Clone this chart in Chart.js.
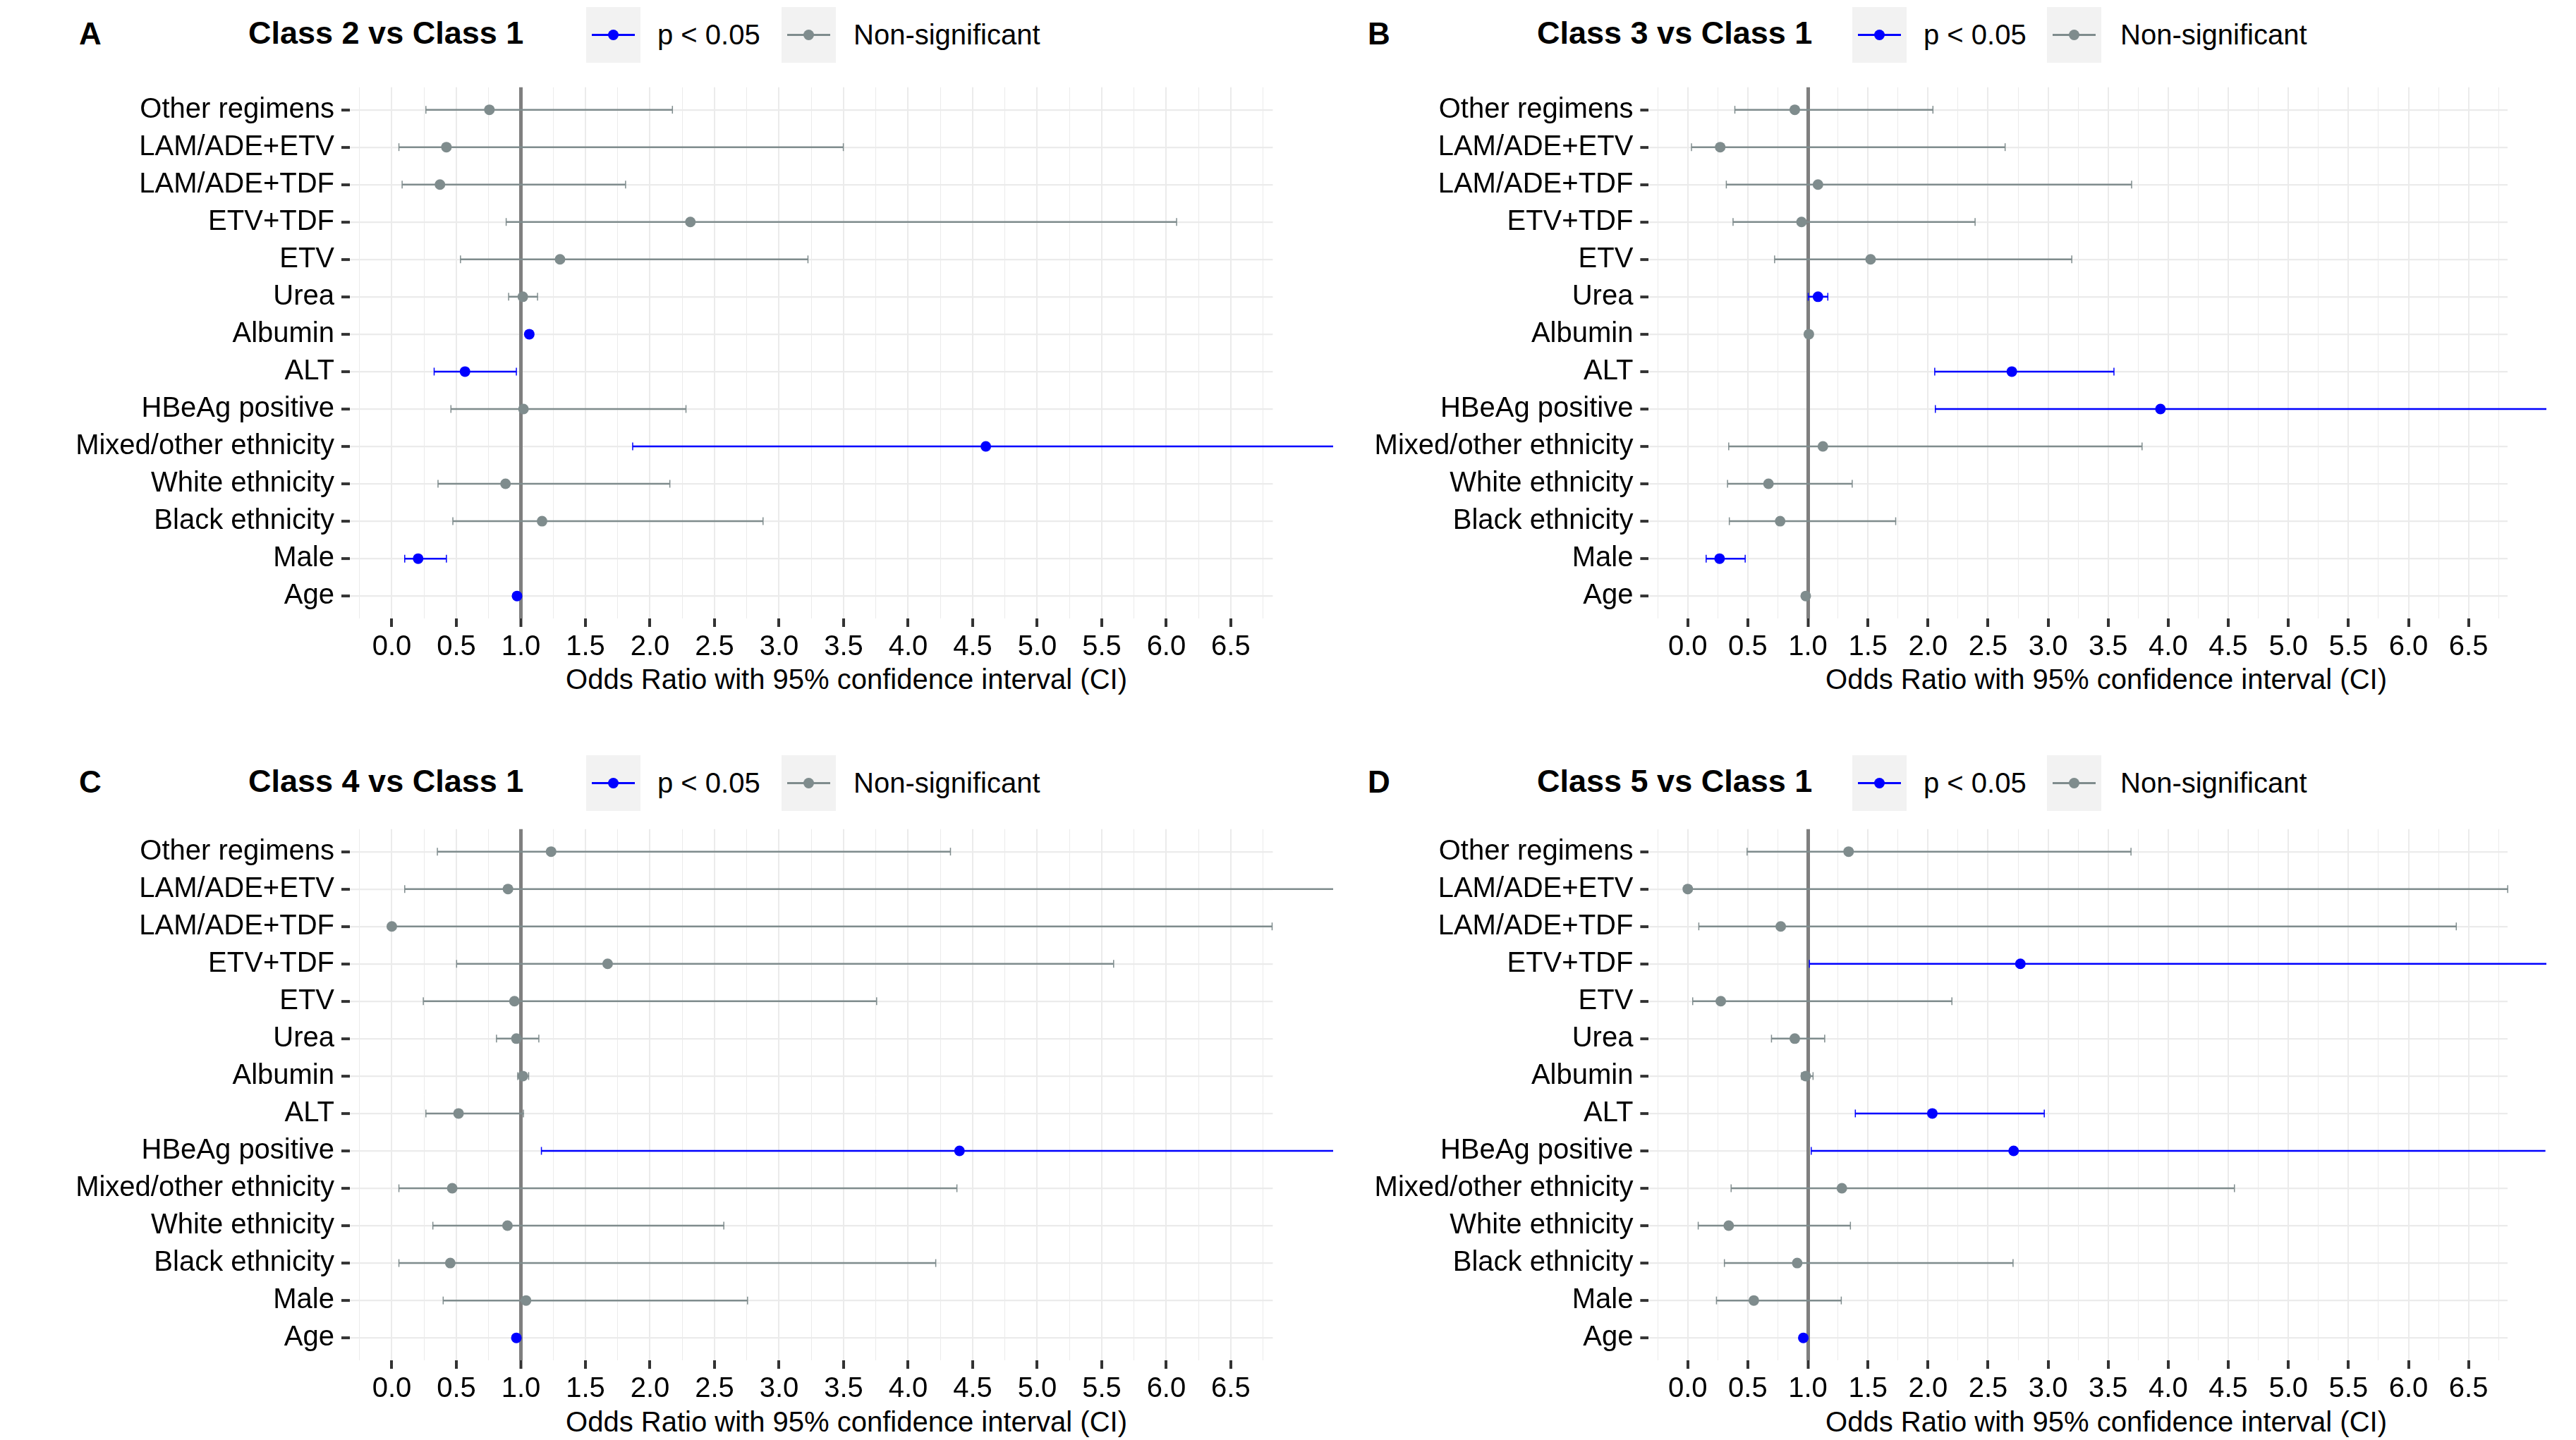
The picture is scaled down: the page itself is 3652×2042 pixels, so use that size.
<!DOCTYPE html>
<html>
<head>
<meta charset="utf-8">
<script src="https://cdn.jsdelivr.net/npm/chart.js@4.4.1/dist/chart.umd.min.js"></script>
<style>
html,body{margin:0;padding:0;background:#fff;width:3652px;height:2042px;overflow:hidden;font-family:"Liberation Sans",Arial,Helvetica,sans-serif;color:#000;}
.abs{position:absolute;white-space:nowrap;}
.letter{font-weight:bold;font-size:44px;line-height:44px;}
.ptitle{font-weight:bold;font-size:45px;line-height:45px;}
.leg{font-size:40px;line-height:40px;}
.axt{font-size:40px;line-height:40px;transform:translateX(-50%);}
.key{position:absolute;background:#F2F2F2;width:77px;height:79px;}
.key .ln{position:absolute;left:8px;width:61px;top:38px;height:3px;}
.key .dt{position:absolute;left:31px;top:32px;width:15px;height:15px;border-radius:50%;}
canvas{position:absolute;}
</style>
</head>
<body>
<script>
// ---------- data ----------
const variables = ['Other regimens','LAM/ADE+ETV','LAM/ADE+TDF','ETV+TDF','ETV','Urea','Albumin','ALT','HBeAg positive','Mixed/other ethnicity','White ethnicity','Black ethnicity','Male','Age'];
const xTickLabels = ['0.0','0.5','1.0','1.5','2.0','2.5','3.0','3.5','4.0','4.5','5.0','5.5','6.0','6.5'];
const panelLetters = ['A','B','C','D'];
const panelTitles = ['Class 2 vs Class 1','Class 3 vs Class 1','Class 4 vs Class 1','Class 5 vs Class 1'];
const legendLabels = ['p < 0.05','Non-significant'];
const xAxisTitle = 'Odds Ratio with 95% confidence interval (CI)';
const refValue = 1;

// Class 2 vs Class 1
const c2_or  = [0.756,0.423,0.373,2.313,1.303,1.015,1.065,0.567,1.020,4.602,0.881,1.164,0.204,0.970];
const c2_lo  = [0.264,0.055,0.080,0.886,0.532,0.905,1.040,0.328,0.458,1.866,0.358,0.473,0.100,0.960];
const c2_hi  = [2.174,3.498,1.811,6.080,3.224,1.129,1.090,0.965,2.279,11.40,2.154,2.876,0.423,0.980];
const c2_sig = [0,0,0,0,0,0,1,1,0,1,0,0,1,1];
// Class 3 vs Class 1
const c3_or  = [0.891,0.270,1.084,0.947,1.522,1.084,1.008,2.698,3.935,1.125,0.672,0.769,0.265,0.982];
const c3_lo  = [0.392,0.031,0.321,0.377,0.723,1.003,0.990,2.056,2.061,0.341,0.331,0.346,0.153,0.975];
const c3_hi  = [2.041,2.642,3.695,2.392,3.197,1.166,1.025,3.548,7.900,3.782,1.369,1.731,0.478,0.990];
const c3_sig = [0,0,0,0,0,1,0,1,1,0,0,0,1,0];
// Class 4 vs Class 1
const c4_or  = [1.234,0.900,0.000,1.672,0.950,0.965,1.015,0.517,4.398,0.468,0.896,0.453,1.040,0.965];
const c4_lo  = [0.353,0.100,0.000,0.502,0.244,0.811,0.975,0.264,1.159,0.055,0.318,0.055,0.398,0.955];
const c4_hi  = [4.328,9.800,6.820,5.592,3.756,1.139,1.060,1.020,9.500,4.378,2.572,4.214,2.756,0.975];
const c4_sig = [0,0,0,0,0,0,0,0,1,0,0,0,0,1];
// Class 5 vs Class 1
const c5_or  = [1.339,0.000,0.774,2.769,0.275,0.891,0.982,2.036,2.713,1.283,0.341,0.911,0.550,0.962];
const c5_lo  = [0.494,0.000,0.092,1.013,0.041,0.697,0.947,1.395,1.028,0.361,0.087,0.305,0.239,0.952];
const c5_hi  = [3.690,6.826,6.398,12.50,2.199,1.140,1.043,2.968,7.140,4.551,1.354,2.708,1.278,0.972];
const c5_sig = [0,0,0,1,0,0,0,1,1,0,0,0,0,1];

// ---------- style / layout ----------
const BLUE = '#0000FF', GREY = '#7F8C8D', FONT = '"Liberation Sans", Arial, Helvetica, sans-serif';
const XMIN = -0.325, XMAX = 6.825, YMIN = 0.4, YMAX = 14.6;
const COLS = [
  {canvasLeft:0,    canvasW:1895, yAxisW:496,   padRight:90.6, clipRight:85.6, letterX:112,  titleX:352,  key1X:831,  text1X:932,  key2X:1108, text2X:1210, axisCx:1200},
  {canvasLeft:1900, canvasW:1720, yAxisW:437.4, padRight:65,   clipRight:55,   letterX:1939, titleX:2179, key1X:2626, text1X:2727, key2X:2902, text2X:3006, axisCx:2986}
];
const ROWS = [{canvasTop:102, headDy:0, axisDy:0}, {canvasTop:1154, headDy:1061, axisDy:1053}];
const CANVAS_H = 891, PAD_TOP = 21.8, XAXIS_H = 116;

const panels = [
  {or:c2_or, lo:c2_lo, hi:c2_hi, sig:c2_sig, col:0, row:0},
  {or:c3_or, lo:c3_lo, hi:c3_hi, sig:c3_sig, col:1, row:0},
  {or:c4_or, lo:c4_lo, hi:c4_hi, sig:c4_sig, col:0, row:1},
  {or:c5_or, lo:c5_lo, hi:c5_hi, sig:c5_sig, col:1, row:1}
];

function addDiv(cls, text, left, top) {
  const d = document.createElement('div');
  d.className = 'abs ' + cls;
  d.textContent = text;
  d.style.left = left + 'px';
  d.style.top = top + 'px';
  document.body.appendChild(d);
  return d;
}
function addKey(left, top, color) {
  const k = document.createElement('div');
  k.className = 'key';
  k.style.left = left + 'px'; k.style.top = top + 'px';
  const ln = document.createElement('div'); ln.className = 'ln'; ln.style.background = color;
  const dt = document.createElement('div'); dt.className = 'dt'; dt.style.background = color;
  k.appendChild(ln); k.appendChild(dt);
  document.body.appendChild(k);
}
function tickLabelFor(v) {
  const idx = Math.round(v / 0.5);
  if (Math.abs(v - idx * 0.5) < 1e-6 && idx >= 0 && idx < xTickLabels.length) return xTickLabels[idx];
  return '';
}
function isHalf(v) { return Math.abs(v / 0.5 - Math.round(v / 0.5)) < 1e-6; }

panels.forEach((p, pi) => {
  const C = COLS[p.col], R = ROWS[p.row];
  // header: letter, title, legend
  addDiv('letter', panelLetters[pi], C.letterX, 25.7 + R.headDy);
  addDiv('ptitle', panelTitles[pi], C.titleX, 23.9 + R.headDy);
  addKey(C.key1X, 10 + R.headDy, BLUE);
  addDiv('leg', legendLabels[0], C.text1X, 29.1 + R.headDy);
  addKey(C.key2X, 10 + R.headDy, GREY);
  addDiv('leg', legendLabels[1], C.text2X, 29.1 + R.headDy);
  addDiv('axt', xAxisTitle, C.axisCx, 943 + R.axisDy);

  // datasets
  const ciS = [], ciN = [], capS = [], capN = [], ptS = [], ptN = [];
  p.or.forEach((v, i) => {
    const y = i + 1;
    const s = p.sig[i] === 1;
    (s ? ciS : ciN).push({x: p.lo[i], y}, {x: p.hi[i], y}, {x: null, y: null});
    (s ? capS : capN).push({x: p.lo[i], y}, {x: p.hi[i], y});
    (s ? ptS : ptN).push({x: v, y});
  });
  const clip = {left: false, top: false, right: C.clipRight, bottom: false};
  const lineDs = (label, data, color) => ({type:'scatter', label, data, showLine:true, spanGaps:false, borderColor:color, borderWidth:2.5, pointRadius:0, order:3, clip});
  const capDs = (label, data, color) => ({type:'scatter', label, data, showLine:false, pointStyle:'line', pointRotation:90, pointRadius:5.5, pointBorderWidth:1.5, pointBorderColor:color, pointBackgroundColor:color, order:2, clip});
  const ptDs = (label, data, color) => ({type:'scatter', label, data, showLine:false, pointStyle:'circle', pointRadius:7.5, pointBorderWidth:0, pointBackgroundColor:color, pointBorderColor:color, order:1, clip});

  const cv = document.createElement('canvas');
  cv.width = C.canvasW; cv.height = CANVAS_H;
  cv.style.left = C.canvasLeft + 'px'; cv.style.top = R.canvasTop + 'px';
  cv.style.width = C.canvasW + 'px'; cv.style.height = CANVAS_H + 'px';
  document.body.appendChild(cv);

  new Chart(cv, {
    type: 'scatter',
    data: {
      datasets: [
        lineDs(legendLabels[0], ciS, BLUE), lineDs(legendLabels[1], ciN, GREY),
        capDs(legendLabels[0], capS, BLUE), capDs(legendLabels[1], capN, GREY),
        ptDs(legendLabels[0], ptS, BLUE), ptDs(legendLabels[1], ptN, GREY)
      ]
    },
    options: {
      responsive: false, animation: false, devicePixelRatio: 1, events: [],
      layout: {padding: {left: 0, top: PAD_TOP, right: C.padRight, bottom: 0}},
      plugins: {legend: {display: false}, tooltip: {enabled: false}, title: {display: false}},
      scales: {
        y: {
          type: 'linear', reverse: true, min: YMIN, max: YMAX,
          afterFit: s => { s.width = C.yAxisW; s.paddingTop = 0; s.paddingBottom = 0; },
          border: {display: false},
          grid: {color: '#EBEBEB', lineWidth: 2.2, tickColor: '#333333', tickLength: 12, tickWidth: 4, drawTicks: true},
          ticks: {stepSize: 1, includeBounds: false, autoSkip: false, padding: 10, color: '#000', font: {family: FONT, size: 40},
                  callback: v => variables[v - 1] || ''}
        },
        x: {
          type: 'linear', min: XMIN, max: XMAX,
          afterFit: s => { s.height = XAXIS_H; s.paddingLeft = 0; s.paddingRight = 0; },
          border: {display: false},
          grid: {
            color: c => Math.abs(c.tick.value - refValue) < 1e-6 ? '#7F7F7F' : '#EBEBEB',
            lineWidth: c => Math.abs(c.tick.value - refValue) < 1e-6 ? 5 : (isHalf(c.tick.value) ? 2 : 1),
            tickColor: c => tickLabelFor(c.tick.value) !== '' ? '#333333' : 'rgba(0,0,0,0)',
            tickLength: 12, tickWidth: 4, drawTicks: true
          },
          ticks: {stepSize: 0.25, includeBounds: false, autoSkip: false, maxRotation: 0, minRotation: 0, padding: 5, color: '#000',
                  font: {family: FONT, size: 40}, callback: v => tickLabelFor(v)},
          title: {display: false}
        }
      }
    }
  });
});
</script>
</body>
</html>
